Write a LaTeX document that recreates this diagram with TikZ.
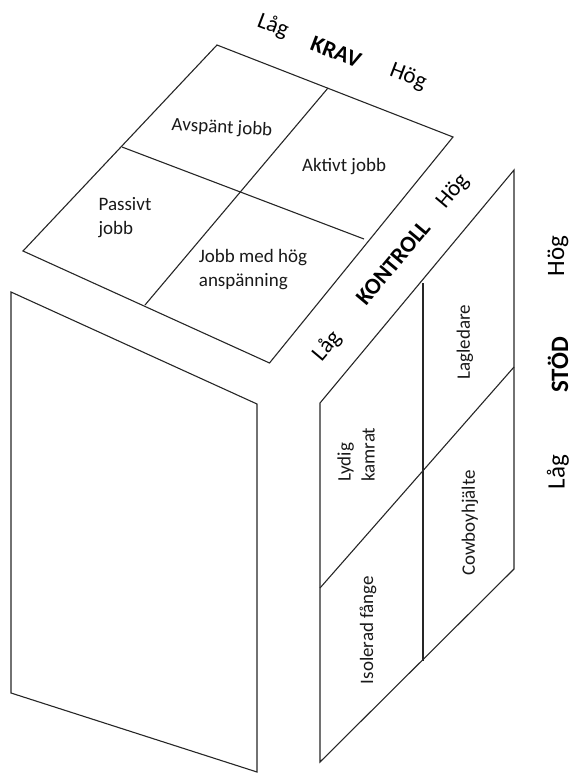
\documentclass[tikz,border=0pt]{standalone}
\usepackage{fontspec}
\setmainfont{Carlito}
\begin{document}
\begin{tikzpicture}[x=1pt,y=-1pt,
  edge/.style={draw=black!85,line width=1.1pt,line join=miter},
  cell/.style={font=\fontsize{19}{24}\selectfont,inner sep=0pt,text=black!90},
  axis/.style={font=\fontsize{23}{26}\selectfont,inner sep=0pt},
  axisb/.style={font=\fontsize{23}{26}\selectfont\bfseries,inner sep=0pt},
  saxis/.style={font=\fontsize{25}{28}\selectfont,inner sep=0pt},
  saxisb/.style={font=\fontsize{25}{28}\selectfont\bfseries,inner sep=0pt}]
\useasboundingbox (0,0) rectangle (576,774);
% top face
\coordinate (tT) at (217,45);
\coordinate (tR) at (453,137);
\coordinate (tB) at (269.5,363);
\coordinate (tL) at (23,251);
\draw[edge] (tT)--(tR)--(tB)--(tL)--cycle;
\coordinate (d1a) at (328,88);
\coordinate (d1b) at (145,305);
\coordinate (d2a) at (122,147);
\coordinate (d2b) at (364,239);
\draw[edge] (d1a)--(d1b);
\draw[edge] (d2a)--(d2b);
% left face
\coordinate (lTL) at (11,292);
\coordinate (lTR) at (257,404);
\coordinate (lBR) at (257,772);
\coordinate (lBL) at (11,693);
\draw[edge] (lTL)--(lTR)--(lBR)--(lBL)--cycle;
% right face
\coordinate (rTL) at (320,403);
\coordinate (rTR) at (514,170);
\coordinate (rBR) at (514,569);
\coordinate (rBL) at (320,762);
\draw[edge] (rTL)--(rTR)--(rBR)--(rBL)--cycle;
\coordinate (v1a) at (423,283);
\coordinate (v1b) at (423,661);
\coordinate (v2a) at (320,588);
\coordinate (v2b) at (514,367);
\draw[edge] (v1a)--(v1b);
\draw[edge] (v2a)--(v2b);
% top face texts
\node[cell,rotate=-3] (avs) at (222,128) {Avspänt jobb};
\node[cell] (akt) at (344,167) {Aktivt jobb};
\node[cell,align=left] (pas) at (125,218) {Passivt\\jobb};
\node[cell,align=left] (jmh) at (253,270) {Jobb med hög\\anspänning};
% KRAV labels
\node[axis,rotate=-21] (kl) at (273,26) {Låg};
\node[axisb,rotate=-21] (kr) at (336,52) {KRAV};
\node[axis,rotate=-21] (kh) at (408,77) {Hög};
% KONTROLL labels
\node[axis,rotate=50] (ol) at (327,346) {Låg};
\node[axisb,rotate=50] (ok) at (393,263) {KONTROLL};
\node[axis,rotate=50] (oh) at (453,192) {Hög};
% STÖD labels
\node[saxis,rotate=90] (sh) at (558,256) {Hög};
\node[saxisb,rotate=90] (ss) at (558,365) {STÖD};
\node[saxis,rotate=90] (sl) at (558,472) {Låg};
% right face texts
\node[cell,rotate=90] (lag) at (465,342) {Lagledare};
\node[cell,rotate=90,anchor=west,align=left] (lyd) at (356,482) {Lydig\\kamrat};
\node[cell,rotate=90] (cow) at (470,523) {Cowboyhjälte};
\node[cell,rotate=90] (iso) at (368,630) {Isolerad fånge};
\end{tikzpicture}
\end{document}
